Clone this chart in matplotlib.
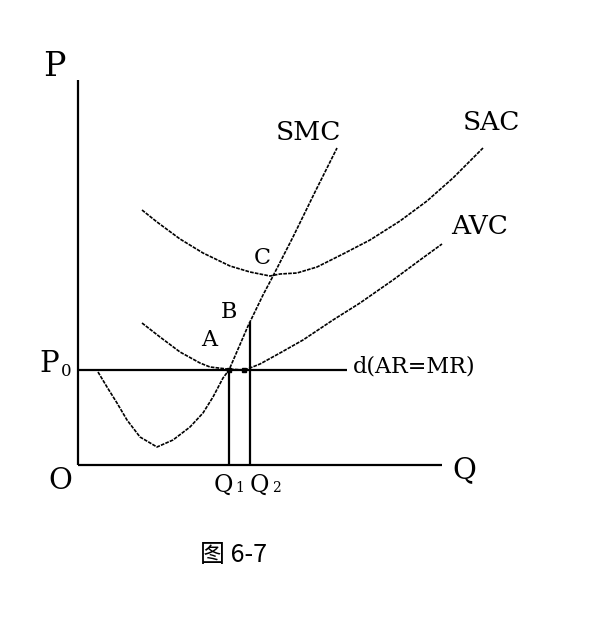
import matplotlib
matplotlib.use("Agg")
import matplotlib.pyplot as plt

# ---- data (Q = quantity, P = price) ----
smc_q = [20, 29, 39, 49, 62, 79, 95, 112, 125, 135, 145, 151, 170, 185, 194,
         215, 237, 259]
smc_p = [93, 78, 62, 45, 28, 18, 25, 38, 52, 68, 87, 95, 139, 170, 187,
         228, 273, 317]

sac_q = [64, 79, 102, 125, 152, 172, 192, 202, 219, 239, 265, 292, 322, 349,
         375, 405]
sac_p = [255, 243, 226, 212, 199, 193, 189, 191, 192, 198, 211, 225, 244, 264,
         287, 317]

avc_q = [64, 82, 102, 122, 132, 149, 167, 182, 202, 225, 255, 282, 315, 342, 364]
avc_p = [142, 128, 113, 102, 98, 96, 95, 101, 112, 125, 145, 162, 185, 205, 221]

p0 = 95            # price level P0
d_end = 269        # end of demand line d(AR=MR)
q1, q1_top = 151, 95
q2, q2_top = 172, 143
q_axis_end = 364
p_axis_end = 385

fig = plt.figure(figsize=(6.02, 6.24), dpi=100)
ax = fig.add_axes([0, 0, 1, 1])
ax.set_xlim(-78, 524)
ax.set_ylim(-159, 465)
ax.axis("off")

k = "black"
for xs, ys in [([0, 0], [0, p_axis_end]), ([0, q_axis_end], [0, 0]),
               ([0, d_end], [p0, p0]), ([q1, q1], [0, q1_top]),
               ([q2, q2], [0, q2_top])]:
    ax.plot(xs, ys, color=k, lw=1.6, solid_capstyle="butt")

# curves
for qs, ps in [(smc_q, smc_p), (sac_q, sac_p), (avc_q, avc_p)]:
    ax.plot(qs, ps, color=k, lw=1.2, dashes=(2.2, 0.7))

# dots
ax.plot([q1, 166], [p0, p0], "s", color=k, ms=3.5)

serif = ["DejaVu Serif"]
def t(x, y, s, size, **kw):
    ax.text(x, y, s, fontsize=size, family=serif, ha="center", va="center", **kw)

t(-24, 398, "P", 24)
t(-18, -16, "O", 21)
t(-29, 101, "P", 21)
t(-12, 94, "0", 12)
t(386, -5, "Q", 21)
t(145, -20, "Q", 17)
t(162, -23, "1", 10)
t(181, -20, "Q", 17)
t(198, -23, "2", 10)
t(131, 125, "A", 16)
t(151, 153, "B", 16)
t(184, 207, "C", 16)
t(230, 333, "SMC", 19)
t(413, 342, "SAC", 19)
t(402, 238, "AVC", 19)
ax.text(275, 98, "d(AR=MR)", fontsize=16, family=serif, ha="left", va="center")

ax.text(156, -90, "图 6-7", fontsize=18,
        family=["Noto Sans CJK SC", "DejaVu Sans"], ha="center", va="center")

fig.savefig("out.png", dpi=100)
